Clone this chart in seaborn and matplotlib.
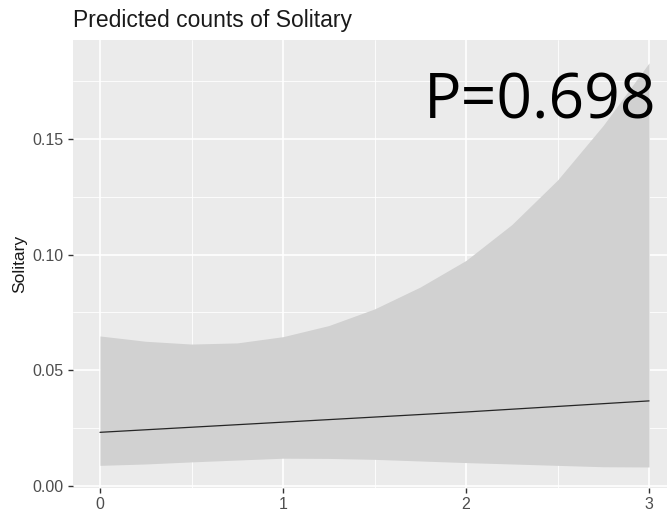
import numpy as np
import pandas as pd
import matplotlib
matplotlib.use("Agg")
import matplotlib.pyplot as plt
from matplotlib.ticker import MultipleLocator
import seaborn as sns

# valores
x_vals = [0, 0.25, 0.5, 0.75, 1, 1.25, 1.5, 1.75, 2, 2.25, 2.5, 2.75, 3]
upper = [0.0648, 0.0625, 0.0613, 0.0618, 0.0645, 0.0693, 0.0765, 0.0860, 0.0975, 0.1130, 0.1323, 0.1560, 0.1830]
lower = [0.0088, 0.0094, 0.0103, 0.0111, 0.0119, 0.0118, 0.0114, 0.0107, 0.0100, 0.0094, 0.0088, 0.0082, 0.0081]
pred = [0.0231, 0.0242, 0.0253, 0.0264, 0.0275, 0.0286, 0.0297, 0.0308, 0.0319, 0.0331, 0.0343, 0.0355, 0.0367]

x_ticks = [0, 1, 2, 3]
y_ticks = [0.00, 0.05, 0.10, 0.15]
y_tick_labels = ["0.00", "0.05", "0.10", "0.15"]

df = pd.DataFrame({"x": x_vals, "pred": pred, "lo": lower, "hi": upper})

sns.set_theme(style="darkgrid", rc={
    "axes.facecolor": "#EBEBEB",
    "grid.color": "white",
    "axes.edgecolor": "none",
})
plt.rcParams["font.family"] = ["Liberation Sans", "DejaVu Sans"]

fig = plt.figure(figsize=(6.67, 5.15), dpi=100)
ax = fig.add_axes([73 / 667, 1 - 487.7 / 515, 1 - 73 / 667, (487.7 - 40) / 515])

ax.fill_between(df["x"], df["lo"], df["hi"], color="#D1D1D1", lw=0, zorder=2)
sns.lineplot(data=df, x="x", y="pred", color="#262626", lw=0.9, ax=ax, zorder=3)

ax.set_xlim(-0.1475, 3.098)
ax.set_ylim(-0.00087, 0.1929)
ax.set_xticks(x_ticks)
ax.set_xticklabels([str(t) for t in x_ticks])
ax.set_yticks(y_ticks)
ax.set_yticklabels(y_tick_labels)
ax.xaxis.set_minor_locator(MultipleLocator(0.5))
ax.yaxis.set_minor_locator(MultipleLocator(0.025))
ax.grid(which="major", color="white", lw=1.2)
ax.grid(which="minor", color="white", lw=0.6)
ax.set_axisbelow(True)

ax.tick_params(axis="both", which="major", length=3.5, width=1.0, color="#333333",
               labelcolor="#4D4D4D", labelsize=11.5, pad=3, bottom=True, left=True)
ax.tick_params(which="minor", length=0)

ax.set_xlabel("")
ax.set_ylabel("Solitary", fontsize=12.5, color="#1A1A1A", labelpad=4)
fig.text(73 / 667, 1 - 27 / 515, "Predicted counts of Solitary", fontsize=16.5,
         color="#1A1A1A", ha="left", va="baseline")

ax.text(0.982, 0.93, "P=0.698", transform=ax.transAxes, fontsize=45,
        family=["Open Sans", "DejaVu Sans"], ha="right", va="top", color="black", zorder=5)

plt.savefig("out.png", dpi=100)
